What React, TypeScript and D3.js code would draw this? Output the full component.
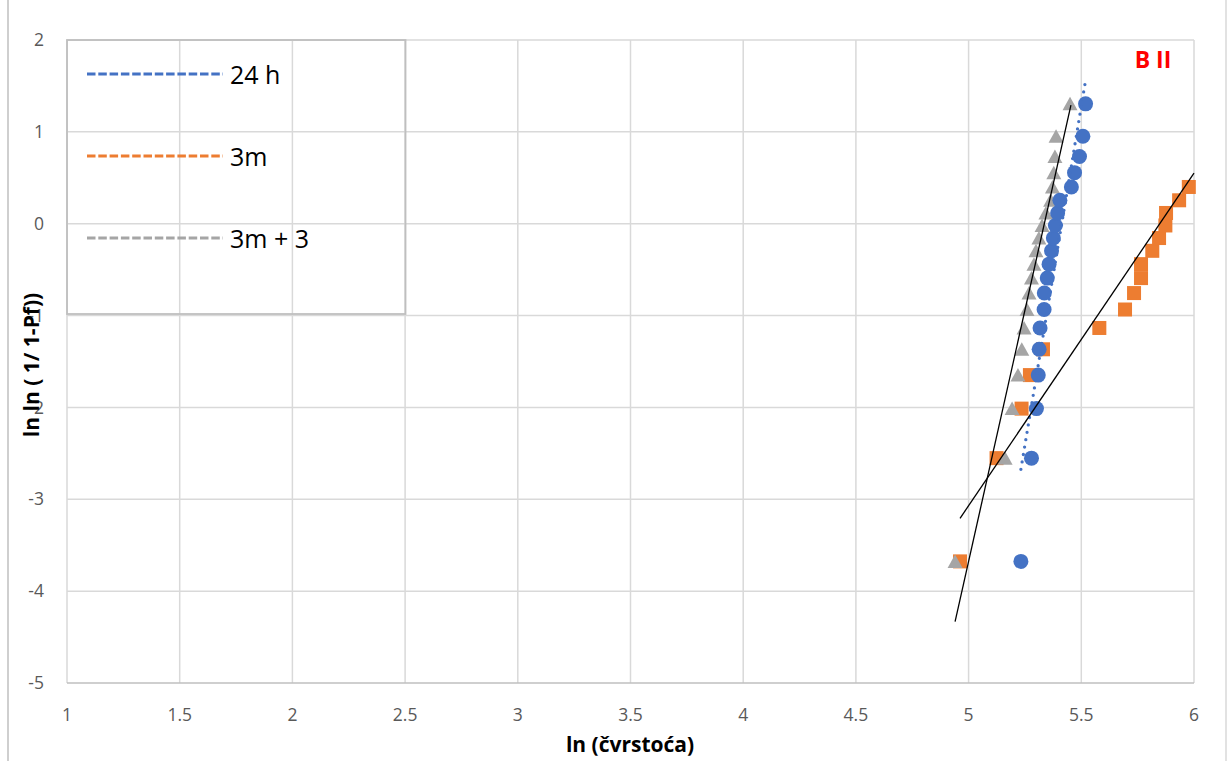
import React from 'react';
import * as d3 from 'd3';

// ln ln(1/(1-Pf)) values (rank positions)
const lnLnPf = [-3.676, -2.552, -2.013, -1.648, -1.367, -1.135, -0.934, -0.755, -0.592, -0.44, -0.295, -0.156, -0.019, 0.117, 0.255, 0.4, 0.556, 0.732, 0.952, 1.305];

// ln(strength) for each series
const ln24h = [5.232, 5.279, 5.301, 5.309, 5.313, 5.317, 5.335, 5.336, 5.349, 5.357, 5.368, 5.376, 5.385, 5.395, 5.405, 5.456, 5.47, 5.492, 5.507, 5.519];
const ln3m = [4.962, 5.124, 5.235, 5.272, 5.33, 5.58, 5.694, 5.734, 5.765, 5.765, 5.815, 5.845, 5.873, 5.876, 5.934, 5.977];
const ln3m3 = [4.94, 5.162, 5.193, 5.219, 5.236, 5.246, 5.259, 5.268, 5.279, 5.29, 5.299, 5.312, 5.326, 5.343, 5.364, 5.372, 5.378, 5.383, 5.388, 5.45];

const seriesNames = ['24 h', '3m', '3m + 3'];
const seriesColors = ['#4472C4', '#ED7D31', '#A5A5A5'];

// hand-drawn black guide lines (data coordinates of their ends)
const guide3m3: [number, number][] = [[4.94, -4.333], [5.454, 1.292]];
const guide3m: [number, number][] = [[4.962, -3.207], [6.0, 0.55]];

const xTicks = [1, 1.5, 2, 2.5, 3, 3.5, 4, 4.5, 5, 5.5, 6];
const yTicks = [-5, -4, -3, -2, -1, 0, 1, 2];

const chartLabel = 'B II';
const xTitle = 'ln (čvrstoća)';
const yTitle = 'ln ln ( 1/ 1-Pf))';

const W = 1230;
const H = 761;
const FONT = "'Open Sans', 'Liberation Sans', sans-serif";

function regression(xs: number[], ys: number[]) {
  const mx = d3.mean(xs)!;
  const my = d3.mean(ys)!;
  let sxy = 0, sxx = 0;
  xs.forEach((x, i) => {
    sxy += (x - mx) * (ys[i] - my);
    sxx += (x - mx) * (x - mx);
  });
  const slope = sxy / sxx;
  const icpt = my - slope * mx;
  const [x0, x1] = d3.extent(xs) as [number, number];
  return [[x0, icpt + slope * x0], [x1, icpt + slope * x1]] as [number, number][];
}

export default function App() {
  const x = d3.scaleLinear().domain([1, 6]).range([67, 1194]);
  const y = d3.scaleLinear().domain([-5, 2]).range([683, 40]);
  const line = d3.line<[number, number]>().x(d => x(d[0])).y(d => y(d[1]));

  const pts24 = ln24h.map((v, i) => [v, lnLnPf[i]] as [number, number]);
  const pts3m = ln3m.map((v, i) => [v, lnLnPf[i]] as [number, number]);
  const pts3m3 = ln3m3.map((v, i) => [v, lnLnPf[i]] as [number, number]);
  const trend24 = regression(ln24h, lnLnPf.slice(0, ln24h.length));

  const legendY = [74, 156, 238];

  return (
    <svg width={W} height={H} style={{ position: 'absolute', left: 0, top: 0, background: '#fff' }}>
      <rect x={0} y={0} width={W} height={H} fill="#fff" />
      <line x1={8} y1={0} x2={8} y2={H} stroke="#bfbfbf" strokeWidth={1.5} />
      <line x1={1226} y1={0} x2={1226} y2={H} stroke="#d9d9d9" strokeWidth={1.5} />
      {/* gridlines */}
      {xTicks.map(t => (
        <line key={'gx' + t} x1={x(t)} x2={x(t)} y1={y(2)} y2={y(-5)} stroke="#d9d9d9" strokeWidth={1.5} />
      ))}
      {yTicks.map(t => (
        <line key={'gy' + t} x1={x(1)} x2={x(6)} y1={y(t)} y2={y(t)} stroke={t === -5 ? '#bfbfbf' : '#d9d9d9'} strokeWidth={1.5} />
      ))}
      {/* tick labels */}
      {yTicks.map(t => (
        <text key={'ty' + t} x={44} y={y(t)} dy="0.35em" textAnchor="end" fontFamily={FONT} fontSize={17.5} fill="#595959">{t}</text>
      ))}
      {xTicks.map(t => (
        <text key={'tx' + t} x={x(t)} y={721} textAnchor="middle" fontFamily={FONT} fontSize={17.5} fill="#595959">{t}</text>
      ))}
      {/* legend */}
      <rect x={x(1)} y={y(2)} width={338.5} height={274} fill="none" stroke="#bfbfbf" strokeWidth={1.8} />
      {seriesNames.map((n, i) => (
        <g key={n}>
          <line x1={87} x2={223} y1={legendY[i]} y2={legendY[i]} stroke={seriesColors[i]} strokeWidth={3} strokeDasharray="8.5 2.8" />
          <text x={230} y={legendY[i] + 10} fontFamily={FONT} fontSize={25} fill="#000">{n}</text>
        </g>
      ))}
      {/* 3m squares */}
      {pts3m.map((p, i) => (
        <rect key={'s' + i} x={x(p[0]) - 7} y={y(p[1]) - 7} width={14} height={14} fill={seriesColors[1]} />
      ))}
      {/* 3m + 3 triangles */}
      {pts3m3.map((p, i) => {
        const cx = x(p[0]), cy = y(p[1]);
        return <path key={'t' + i} d={`M${cx},${cy - 7}L${cx + 7.5},${cy + 6.5}L${cx - 7.5},${cy + 6.5}Z`} fill={seriesColors[2]} />;
      })}
      {/* 24 h circles */}
      {pts24.map((p, i) => (
        <circle key={'c' + i} cx={x(p[0])} cy={y(p[1])} r={7.5} fill={seriesColors[0]} />
      ))}
      {/* trend for 24 h */}
      <path d={line(trend24)!} stroke={seriesColors[0]} strokeWidth={3.3} strokeLinecap="round" strokeDasharray="0 7.5" fill="none" />
      {/* black guide lines */}
      <path d={line(guide3m3)!} stroke="#000" strokeWidth={1.3} fill="none" />
      <path d={line(guide3m)!} stroke="#000" strokeWidth={1.3} fill="none" />
      {/* labels */}
      <text x={1153} y={68} textAnchor="middle" fontFamily={FONT} fontSize={23} fontWeight="bold" fill="#FF0000">{chartLabel}</text>
      <text x={630} y={752} textAnchor="middle" fontFamily={FONT} fontSize={21} fontWeight="bold" fill="#000">{xTitle}</text>
      <text transform={`translate(39,365) rotate(-90)`} textAnchor="middle" fontFamily={FONT} fontSize={21} fontWeight="bold" fill="#000">{yTitle}</text>
    </svg>
  );
}
